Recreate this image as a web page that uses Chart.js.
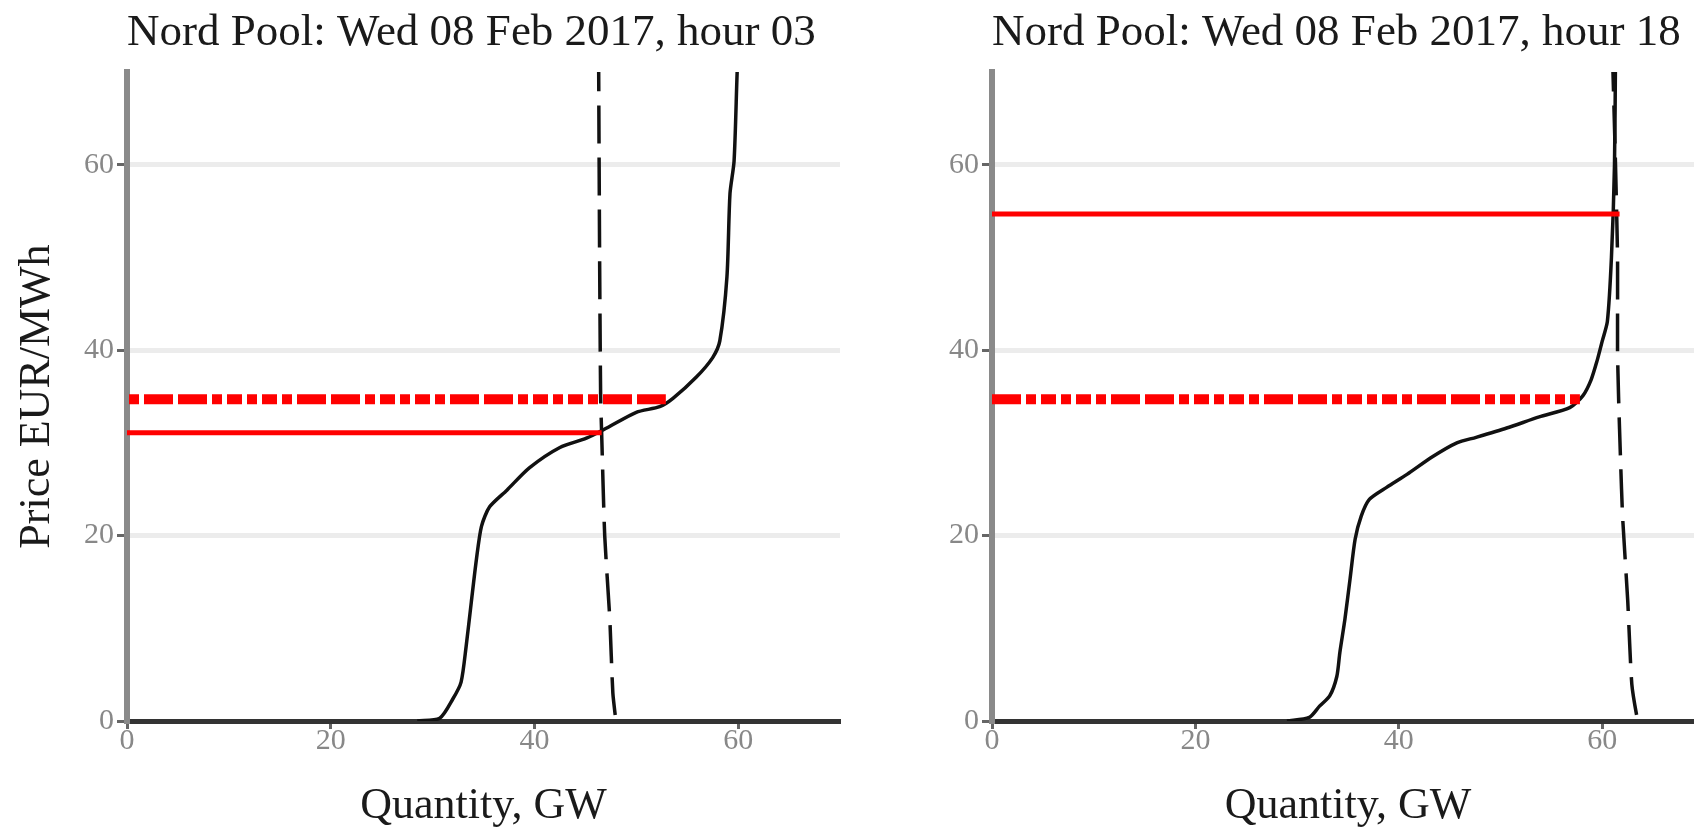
<!DOCTYPE html>
<html>
<head>
<meta charset="utf-8">
<script src="https://cdn.jsdelivr.net/npm/chart.js@4.4.1/dist/chart.umd.min.js"></script>
<style>
html, body { margin: 0; padding: 0; background: #fff; overflow: hidden; width: 1694px; height: 828px; }
#left { position: absolute; left: 0; top: 0; }
#right { position: absolute; left: 850px; top: 0; }
</style>
</head>
<body>
<canvas id="left" width="850" height="828"></canvas>
<canvas id="right" width="864" height="828"></canvas>
<script>
// ---------- DATA ----------

const xTicks = [0, 20, 40, 60];
const yTicks = [0, 20, 40, 60];

// hour 03
const supply03Q = [28.5, 30.7, 32.0, 32.8, 33.3, 33.8, 34.3, 34.8, 35.6, 37.3, 39.5, 42.5, 45.1, 47.1, 50.0, 52.3, 53.6, 55.9, 57.5, 58.2, 58.9, 59.2, 59.6, 59.9, 60.0];
const supply03P = [0, 0.3, 2.4, 4.2, 8.1, 12.8, 17.4, 21.0, 23.1, 24.9, 27.3, 29.5, 30.5, 31.6, 33.3, 33.9, 34.8, 37.1, 39.2, 41.0, 47.9, 56.9, 60.4, 69.9, 72];
const demand03Q = [46.3, 46.4, 46.5, 46.6, 46.9, 47.4, 47.7, 48.0];
const demand03P = [72, 50, 35, 31, 20, 11, 3, 0];
const price03Q = [0, 46.6];
const price03P = [31.1, 31.1];
const ref03Q = [0, 52.9];
const ref03P = [34.7, 34.7];

// hour 18
const supply18Q = [29.0, 31.2, 32.2, 33.2, 33.9, 34.2, 34.7, 35.2, 35.7, 36.3, 37.1, 38.8, 40.8, 43.3, 45.7, 47.6, 50.6, 53.8, 56.8, 58.1, 58.9, 59.5, 60.0, 60.5, 60.9, 61.2, 61.3];
const supply18P = [0, 0.4, 1.6, 2.7, 4.8, 7.4, 11.0, 15.3, 19.6, 22.1, 23.9, 25.2, 26.6, 28.5, 30.0, 30.6, 31.6, 32.8, 33.8, 35.1, 36.8, 38.9, 41.0, 43.1, 50, 60, 72];
const demand18Q = [61.0, 61.3, 61.5, 61.5, 61.6, 61.8, 62.0, 62.5, 62.9, 63.4, 63.6];
const demand18P = [72, 60, 50, 40, 35, 28, 22, 13, 4, 0.5, 0];
const price18Q = [0, 61.7];
const price18P = [54.7, 54.7];
const ref18Q = [0, 57.8];
const ref18P = [34.7, 34.7];

// ---------- HELPERS ----------

const serif = "'Liberation Serif', 'DejaVu Serif', serif";
const redDash = [29, 5, 29, 5, 10, 5, 15, 5, 10, 5, 15, 5, 10, 5];

function pts(qs, ps) {
  return qs.map((q, i) => ({ x: q, y: ps[i] }));
}

function makeDatasets(sQ, sP, dQ, dP, pQ, pP, rQ, rP, dashOffset) {
  return [
    { data: pts(rQ, rP), showLine: true, borderColor: '#ff0000', borderWidth: 10, borderDash: redDash, borderDashOffset: dashOffset, borderCapStyle: 'butt' },
    { data: pts(pQ, pP), showLine: true, borderColor: '#ff0000', borderWidth: 5 },
    { data: pts(dQ, dP), showLine: true, borderColor: '#111', borderWidth: 3.5, borderDash: [38, 14], tension: 0.2 },
    { data: pts(sQ, sP), showLine: true, borderColor: '#111', borderWidth: 3.5, tension: 0.25 }
  ];
}

function makeOptions(title, yWidth, showYTitle, padRight) {
  return {
    responsive: false,
    animation: false,
    devicePixelRatio: 1,
    layout: { padding: { left: 0, right: padRight, top: 0, bottom: 0 } },
    elements: { point: { radius: 0 }, line: { fill: false } },
    plugins: {
      legend: { display: false },
      tooltip: { enabled: false },
      title: {
        display: true,
        text: title,
        align: 'start',
        fullSize: false,
        color: '#1a1a1a',
        font: { family: serif, size: 45, weight: 'normal', lineHeight: 1.143 },
        padding: { top: 7, bottom: 13.6 }
      }
    },
    scales: {
      x: {
        type: 'linear',
        min: 0,
        max: 70,
        afterBuildTicks: s => { s.ticks = xTicks.map(v => ({ value: v })); },
        afterFit: s => { s.height = 107; },
        border: { color: '#333', width: 5 },
        grid: { drawOnChartArea: false, drawTicks: true, tickLength: 8, tickWidth: 3, tickColor: '#666' },
        ticks: { color: '#888', font: { family: serif, size: 30, lineHeight: 1 }, padding: -3, maxRotation: 0 },
        title: {
          display: true,
          text: 'Quantity, GW',
          color: '#1a1a1a',
          font: { family: serif, size: 44, lineHeight: 1 },
          padding: { top: 0, bottom: 0 }
        }
      },
      y: {
        type: 'linear',
        min: 0,
        max: 70,
        afterBuildTicks: s => { s.ticks = yTicks.map(v => ({ value: v })); },
        afterFit: s => { s.width = yWidth; },
        border: { color: '#8a8a8a', width: 6 },
        grid: { color: '#ececec', lineWidth: 5, drawTicks: true, tickLength: 10, tickWidth: 3, tickColor: '#666' },
        ticks: { color: '#888', font: { family: serif, size: 30 }, padding: 3 },
        title: {
          display: showYTitle,
          text: 'Price EUR/MWh',
          color: '#1a1a1a',
          font: { family: serif, size: 44, lineHeight: 1.2 },
          padding: { top: 10.6, bottom: 0 }
        }
      }
    }
  };
}

// ---------- CHARTS ----------

var ctxLeft = document.getElementById('left').getContext('2d');
var leftChart = new Chart(ctxLeft, {
  type: 'scatter',
  data: { datasets: makeDatasets(supply03Q, supply03P, demand03Q, demand03P, price03Q, price03P, ref03Q, ref03P, 136) },
  options: makeOptions('Nord Pool: Wed 08 Feb 2017, hour 03', 127, true, 10)
});

var ctxRight = document.getElementById('right').getContext('2d');
var rightChart = new Chart(ctxRight, {
  type: 'scatter',
  data: { datasets: makeDatasets(supply18Q, supply18P, demand18Q, demand18P, price18Q, price18P, ref18Q, ref18P, 34) },
  options: makeOptions('Nord Pool: Wed 08 Feb 2017, hour 18', 142, false, 10)
});
</script>
</body>
</html>
